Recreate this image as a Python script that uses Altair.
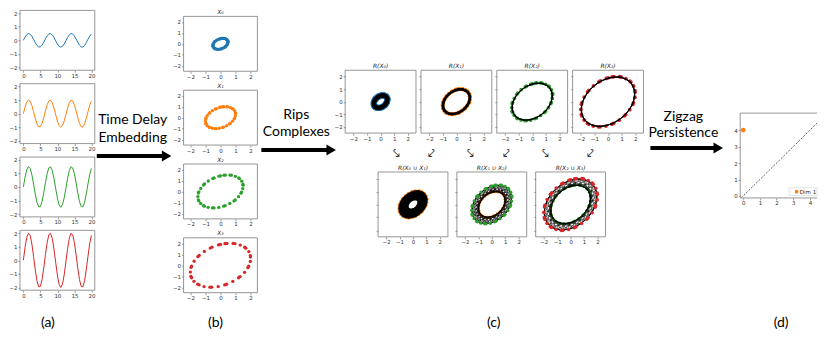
import altair as alt
import pandas as pd

# ---------------- data ----------------
T = [0, 0.5, 1, 1.5, 2, 2.5, 3, 3.5, 4, 4.5, 5, 5.5, 6, 6.5, 7, 7.5, 8, 8.5, 9, 9.5, 10,
     10.5, 11, 11.5, 12, 12.5, 13, 13.5, 14, 14.5, 15, 15.5, 16, 16.5, 17, 17.5, 18, 18.5,
     19, 19.5, 20]
S0 = [0, 0.24, 0.42, 0.5, 0.45, 0.3, 0.07, -0.18, -0.38, -0.49, -0.48, -0.35, -0.14, 0.11,
      0.33, 0.47, 0.49, 0.4, 0.21, -0.04, -0.27, -0.44, -0.5, -0.44, -0.27, -0.03, 0.21, 0.4,
      0.5, 0.47, 0.33, 0.1, -0.14, -0.36, -0.48, -0.49, -0.38, -0.17, 0.08, 0.3, 0.46]
S1 = [0, 0.48, 0.84, 1.0, 0.91, 0.6, 0.14, -0.35, -0.76, -0.98, -0.96, -0.71, -0.28, 0.22,
      0.66, 0.94, 0.99, 0.8, 0.41, -0.08, -0.54, -0.88, -1.0, -0.88, -0.54, -0.07, 0.42, 0.8,
      0.99, 0.94, 0.65, 0.21, -0.29, -0.71, -0.96, -0.98, -0.75, -0.34, 0.15, 0.61, 0.91]
S2 = [0, 0.72, 1.26, 1.5, 1.36, 0.9, 0.21, -0.53, -1.14, -1.47, -1.44, -1.06, -0.42, 0.32,
      0.99, 1.41, 1.48, 1.2, 0.62, -0.11, -0.82, -1.32, -1.5, -1.31, -0.81, -0.1, 0.63, 1.21,
      1.49, 1.4, 0.98, 0.31, -0.43, -1.07, -1.44, -1.47, -1.13, -0.51, 0.23, 0.91, 1.37]
S3 = [0, 0.96, 1.68, 1.99, 1.82, 1.2, 0.28, -0.7, -1.51, -1.96, -1.92, -1.41, -0.56, 0.43,
      1.31, 1.88, 1.98, 1.6, 0.82, -0.15, -1.09, -1.76, -2.0, -1.75, -1.07, -0.13, 0.84, 1.61,
      1.98, 1.87, 1.3, 0.41, -0.58, -1.42, -1.92, -1.95, -1.5, -0.68, 0.3, 1.21, 1.83]
# delayed coordinate (value 1.25 time units later) for t = 0 .. 19
L0 = [0.47, 0.49, 0.39, 0.19, -0.05, -0.29, -0.45, -0.5, -0.43, -0.25, -0.02, 0.23, 0.41, 0.5,
      0.46, 0.31, 0.09, -0.16, -0.37, -0.49, -0.48, -0.36, -0.16, 0.09, 0.32, 0.46, 0.5, 0.41,
      0.22, -0.02, -0.26, -0.43, -0.5, -0.45, -0.28, -0.05, 0.2, 0.39, 0.49]
L1 = [0.95, 0.98, 0.78, 0.38, -0.11, -0.57, -0.9, -1.0, -0.86, -0.51, -0.03, 0.45, 0.82, 0.99,
      0.92, 0.62, 0.17, -0.32, -0.73, -0.97, -0.97, -0.73, -0.31, 0.18, 0.63, 0.93, 0.99, 0.82,
      0.44, -0.04, -0.52, -0.86, -1.0, -0.89, -0.57, -0.1, 0.39, 0.78, 0.99]
L2 = [1.42, 1.48, 1.17, 0.57, -0.16, -0.86, -1.34, -1.5, -1.29, -0.76, -0.05, 0.68, 1.23, 1.49,
      1.38, 0.94, 0.26, -0.48, -1.1, -1.46, -1.45, -1.09, -0.47, 0.27, 0.95, 1.39, 1.49, 1.23,
      0.66, -0.06, -0.77, -1.3, -1.5, -1.34, -0.85, -0.15, 0.59, 1.18, 1.48]
L3 = [1.9, 1.97, 1.56, 0.76, -0.22, -1.14, -1.79, -2.0, -1.72, -1.02, -0.07, 0.9, 1.65, 1.99,
      1.84, 1.25, 0.35, -0.64, -1.47, -1.94, -1.94, -1.46, -0.62, 0.37, 1.26, 1.85, 1.99, 1.64,
      0.88, -0.08, -1.03, -1.73, -2.0, -1.78, -1.14, -0.2, 0.78, 1.57, 1.97]
SERIES = [S0, S1, S2, S3]
LAGGED = [L0, L1, L2, L3]

EMB_TITLES = ["X₀", "X₁", "X₂", "X₃"]
RIPS_TITLES = ["R(X₀)", "R(X₁)", "R(X₂)", "R(X₃)"]
UNION_TITLES = ["R(X₀ ∪ X₁)", "R(X₁ ∪ X₂)", "R(X₂ ∪ X₃)"]

PD_BIRTH = [0.0]
PD_DEATH = [4.0]
PD_DIAG = [-0.12, 4.42]
LEGEND_LABEL = "Dim 1"

TIME_TICKS = [0, 5, 10, 15, 20]
VAL_TICKS = [-2, -1, 0, 1, 2]
PD_TICKS = [0, 1, 2, 3, 4]

STEP_TEXT = [["Time Delay", "Embedding"], ["Rips", "Complexes"], ["Zigzag", "Persistence"]]
PANEL_LABELS = ["(a)", "(b)", "(c)", "(d)"]
SMALL_ARROWS = ["⤥", "⤦", "⤥", "⤦", "⤥", "⤦"]

# ---------------- style / layout ----------------
COLORS = ["#1f77b4", "#ff7f0e", "#2ca02c", "#d62728"]
FRAME = "#8a8a8a"
AXC = "#555555"
LBC = "#333333"
TF = "DejaVu Sans"
BIGF = "Lato"
W, H = 811, 323

A_X, A_W, A_H = 12, 75, 60
A_Y = [2, 75.5, 149, 222.5]
B_X, B_W, B_H = 176, 74, 55
B_Y = [8, 82, 156, 230]
CT_X, CT_W, CT_Y, CT_H = [338, 414, 490, 566], 71, 62, 63
CB_X, CB_W, CB_Y, CB_H = [371, 450, 529], 70, 164, 65
D_BOX = (734, 105, 77, 85)

ARROWS = [(89, 164, 148), (254, 329, 142), (644, 717, 140)]
STEP_POS = [(125, 112, 130), (289, 107, 124), (677, 109, 125)]
LABEL_POS = [40, 208, 487, 775]
LABEL_Y = 315
SMALL_X = [389, 425, 464, 500, 539, 584]
SMALL_Y = 145


def ax_x(px_bottom, values, labels=True):
    return alt.Axis(orient="bottom", offset=px_bottom - H, values=values, title=None,
                    grid=False, domain=False, ticks=True, tickSize=2, tickWidth=0.6,
                    tickColor=AXC, labels=labels, labelFontSize=5.5, labelFont=TF,
                    labelColor=LBC, labelPadding=1, labelFlush=False, labelOverlap=False,
                    format="d")


def ax_y(px_left, values, labels=True):
    return alt.Axis(orient="left", offset=-px_left, values=values, title=None,
                    grid=False, domain=False, ticks=True, tickSize=2, tickWidth=0.6,
                    tickColor=AXC, labels=labels, labelFontSize=5.5, labelFont=TF,
                    labelColor=LBC, labelPadding=1, labelFlush=False, labelOverlap=False,
                    format="d")


def panel(box, xdom, ydom, xticks, yticks, marks, xlabels=True, ylabels=True,
          title=None, open_right=False):
    """Returns a flat list of layers, each carrying identical scale definitions."""
    x0, y0, w, h = box

    def xs():
        return alt.Scale(domain=xdom, range=[x0, x0 + w], nice=False, zero=False)

    def ys():
        return alt.Scale(domain=ydom, range=[y0 + h, y0], nice=False, zero=False)

    def X(f, axis=None):
        return alt.X(f, type="quantitative", scale=xs(), axis=axis)

    def Y(f, axis=None):
        return alt.Y(f, type="quantitative", scale=ys(), axis=axis)

    layers = [m(X, Y) for m in marks]
    if not open_right:
        fdf = pd.DataFrame({"a": [xdom[0]], "b": [xdom[1]], "c": [ydom[0]], "d": [ydom[1]]})
        fr = alt.Chart(fdf).mark_rect(filled=False, color=FRAME, strokeWidth=0.9)
    else:
        fdf = pd.DataFrame({"a": [xdom[0], xdom[0], xdom[0]],
                            "b": [xdom[1], xdom[0], xdom[1]],
                            "c": [ydom[1], ydom[0], ydom[0]],
                            "d": [ydom[1], ydom[1], ydom[0]]})
        fr = alt.Chart(fdf).mark_rule(color=FRAME, strokeWidth=0.9)
    fr = fr.encode(x=X("a", ax_x(y0 + h, xticks, xlabels)), x2="b",
                   y=Y("c", ax_y(x0, yticks, ylabels)), y2="d")
    layers.append(fr)
    if title:
        tdf = pd.DataFrame({"x": [(xdom[0] + xdom[1]) / 2], "y": [ydom[1]], "t": [title]})
        layers.append(alt.Chart(tdf).mark_text(font=TF, fontSize=6, fontStyle="italic",
                                               baseline="bottom", dy=-1.5, color="#222").encode(
            x=X("x"), y=Y("y"), text="t:N"))
    return layers


def line_mark(df, color, width, dash=None):
    def f(X, Y):
        kw = dict(color=color, strokeWidth=width)
        if dash:
            kw["strokeDash"] = dash
        return alt.Chart(df).mark_line(**kw).encode(x=X("x"), y=Y("y"), order=alt.Order("i:Q"))
    return f


def circ_mark(df, color, size):
    def f(X, Y):
        return alt.Chart(df).mark_circle(color=color, size=size, opacity=1).encode(
            x=X("x"), y=Y("y"))
    return f


def rule_mark(df, color, width):
    def f(X, Y):
        return alt.Chart(df).mark_rule(color=color, strokeWidth=width).encode(
            x=X("x"), y=Y("y"), x2="x2", y2="y2")
    return f


def embed(s, lag):
    n = len(lag)
    return pd.DataFrame({"x": s[:n], "y": lag, "i": list(range(n))})


def mesh(inner, outer):
    rows = []
    n = len(inner)
    for k in range(n):
        for j in (k - 1, k, k + 1):
            if 0 <= j < n:
                rows.append({"x": inner.x[k], "y": inner.y[k],
                             "x2": outer.x[j], "y2": outer.y[j]})
    return pd.DataFrame(rows)


EMB = [embed(s, l) for s, l in zip(SERIES, LAGGED)]
layers = []

# (a) time series
for k, s in enumerate(SERIES):
    df = pd.DataFrame({"x": T, "y": s, "i": list(range(len(T)))})
    layers += panel((A_X, A_Y[k], A_W, A_H), [-1, 21], [-2.2, 2.2], TIME_TICKS, VAL_TICKS,
                    [line_mark(df, COLORS[k], 1.0)])

# (b) embeddings
for k in range(4):
    layers += panel((B_X, B_Y[k], B_W, B_H), [-2.45, 2.45], [-2.5, 2.5], VAL_TICKS,
                    VAL_TICKS, [circ_mark(EMB[k], COLORS[k], 11)], title=EMB_TITLES[k])

# (c) top row: Rips complexes
top_styles = [(40, 4.5), (18, 2.5), (14, 1.0), (14, 1.0)]
for k in range(4):
    sz, lw = top_styles[k]
    layers += panel((CT_X[k], CT_Y, CT_W, CT_H), [-2.6, 2.6], [-2.5, 2.5], VAL_TICKS,
                    VAL_TICKS,
                    [circ_mark(EMB[k], COLORS[k], sz), line_mark(EMB[k], "black", lw)],
                    ylabels=(k == 0), title=RIPS_TITLES[k])

# (c) bottom row: unions
u0 = [circ_mark(EMB[1], COLORS[1], 18), rule_mark(mesh(EMB[0], EMB[1]), "black", 3.2),
      line_mark(EMB[0], "black", 4.5), line_mark(EMB[1], "black", 2.5)]
u1 = [circ_mark(EMB[1], COLORS[1], 10), rule_mark(mesh(EMB[1], EMB[2]), "black", 0.6),
      line_mark(EMB[1], "black", 0.8), line_mark(EMB[2], "black", 0.8),
      circ_mark(EMB[2], COLORS[2], 11)]
u2 = [circ_mark(EMB[2], COLORS[2], 11), rule_mark(mesh(EMB[2], EMB[3]), "black", 0.5),
      line_mark(EMB[2], "black", 0.8), line_mark(EMB[3], "black", 0.8),
      circ_mark(EMB[3], COLORS[3], 13)]
for k, mk in enumerate([u0, u1, u2]):
    layers += panel((CB_X[k], CB_Y, CB_W, CB_H), [-2.6, 2.6], [-2.5, 2.5], VAL_TICKS,
                    VAL_TICKS, mk, ylabels=False, title=UNION_TITLES[k])

# (d) persistence diagram
diag = pd.DataFrame({"x": PD_DIAG, "y": PD_DIAG, "i": [0, 1]})
pts = pd.DataFrame({"x": PD_BIRTH, "y": PD_DEATH})
leg_box = pd.DataFrame({"x": [2.75], "x2": [4.42], "y": [0.02], "y2": [0.5]})
leg_dot = pd.DataFrame({"x": [3.2], "y": [0.26]})
leg_txt = pd.DataFrame({"x": [3.88], "y": [0.26], "t": [LEGEND_LABEL]})


def leg_box_mark(X, Y):
    return alt.Chart(leg_box).mark_rect(fill="white", stroke="#cccccc", strokeWidth=0.6).encode(
        x=X("x"), x2="x2", y=Y("y"), y2="y2")


def leg_txt_mark(X, Y):
    return alt.Chart(leg_txt).mark_text(font=TF, fontSize=5.5, color="#222").encode(
        x=X("x"), y=Y("y"), text="t:N")


layers += panel(D_BOX, [-0.18, 4.42], [-0.12, 5.03], PD_TICKS, PD_TICKS,
                [line_mark(diag, "#333333", 0.8, dash=[2, 1.5]),
                 circ_mark(pts, COLORS[1], 22), leg_box_mark,
                 circ_mark(leg_dot, COLORS[1], 14), leg_txt_mark],
                open_right=True)

# ---------------- annotations ----------------


def AX(f):
    return alt.X(f, type="quantitative", axis=None,
                 scale=alt.Scale(domain=[0, W], range=[0, W], nice=False, zero=False))


def AY(f):
    return alt.Y(f, type="quantitative", axis=None,
                 scale=alt.Scale(domain=[0, H], range=[0, H], nice=False, zero=False))


shaft_df = pd.DataFrame({"x": [a[0] for a in ARROWS], "x2": [a[1] - 8 for a in ARROWS],
                         "y": [a[2] for a in ARROWS]})
head_df = pd.DataFrame({"x": [a[1] - 5 for a in ARROWS], "y": [a[2] for a in ARROWS]})
txt_rows = []
for (cx, y1, y2), lines in zip(STEP_POS, STEP_TEXT):
    txt_rows.append({"x": cx, "y": y1, "t": lines[0]})
    txt_rows.append({"x": cx, "y": y2, "t": lines[1]})
txt_df = pd.DataFrame(txt_rows)
lab_df = pd.DataFrame({"x": LABEL_POS, "y": [LABEL_Y] * 4, "t": PANEL_LABELS})
small_df = pd.DataFrame({"x": SMALL_X, "y": [SMALL_Y] * 6, "t": SMALL_ARROWS})

layers += [
    alt.Chart(shaft_df).mark_rule(color="black", strokeWidth=4).encode(
        x=AX("x"), x2="x2", y=AY("y")),
    alt.Chart(head_df).mark_point(shape="triangle-right", filled=True, color="black",
                                  size=120, opacity=1).encode(x=AX("x"), y=AY("y")),
    alt.Chart(txt_df).mark_text(font=BIGF, fontSize=14, color="black").encode(
        x=AX("x"), y=AY("y"), text="t:N"),
    alt.Chart(lab_df).mark_text(font=BIGF, fontSize=14, color="black").encode(
        x=AX("x"), y=AY("y"), text="t:N"),
    alt.Chart(small_df).mark_text(font="DejaVu Sans", fontSize=12, color="#222").encode(
        x=AX("x"), y=AY("y"), text="t:N"),
]

chart = alt.layer(*layers).resolve_scale(
    x="independent", y="independent"
).resolve_axis(x="independent", y="independent").properties(
    width=W, height=H, padding=0).configure_view(strokeOpacity=0)

chart.save("out.html", embed_options={"renderer": "svg", "actions": False})
